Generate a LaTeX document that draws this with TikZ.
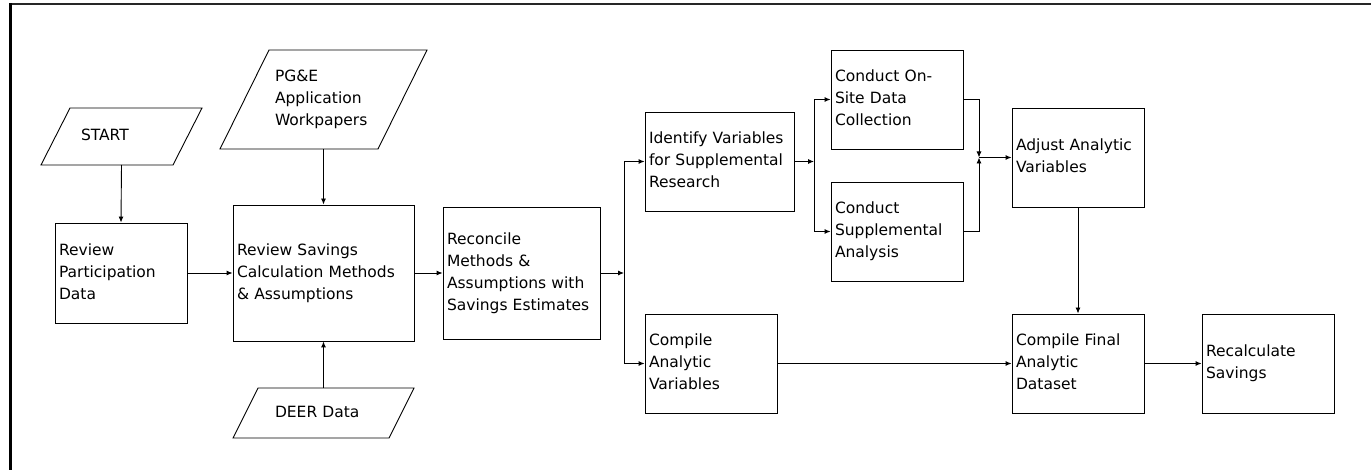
\documentclass[tikz,border=0pt]{standalone}
\usepackage{fontspec}
\setmainfont{DejaVu Sans}
\usetikzlibrary{arrows.meta,calc}
\newcommand{\lns}[1]{\begin{tabular}{@{}l@{}}#1\end{tabular}}
\begin{document}
\begin{tikzpicture}[x=1pt,y=-1pt,
  lbl/.style={font=\fontsize{15.5}{22}\selectfont},
  box/.style n args={3}{draw, line width=0.9pt, lbl, inner xsep=4pt, inner ysep=0pt,
     minimum width=#1pt, minimum height=#2pt, text width=#3pt, align=left},
  para/.style n args={4}{lbl, inner ysep=0pt, outer sep=0pt, minimum width=#1pt,
     minimum height=#2pt, inner xsep=#3pt, text width=#4pt, align=left},
  ln/.style={line width=0.9pt},
  arr/.style={line width=0.9pt, -{Latex[length=6pt,width=5pt]}}]
\useasboundingbox (0,0) rectangle (1371,470);
% frame
\draw[line width=2pt, black!85] (9,4.5) -- (1371,4.5);
\draw[line width=3pt] (10.5,3.5) -- (10.5,470);

% parallelograms
\node[para={161}{57}{40}{81}] (start) at (121.5,136.5) {\lns{START}};
\draw[ln] (start.south west) -- ([xshift=-29pt]start.south east) -- (start.north east) -- ([xshift=29pt]start.north west) -- cycle;
\node[para={207}{99}{55}{97}] (pge) at (323.5,99.5) {\lns{PG\&E\\Application\\Workpapers}};
\draw[ln] (pge.south west) -- ([xshift=-49pt]pge.south east) -- (pge.north east) -- ([xshift=49pt]pge.north west) -- cycle;
\node[para={181}{50}{42}{97}] (deer) at (323.5,413) {\lns{DEER Data}};
\draw[ln] (deer.south west) -- ([xshift=-25pt]deer.south east) -- (deer.north east) -- ([xshift=25pt]deer.north west) -- cycle;

% process boxes
\node[box={132}{100}{124}] (revpart) at (121,273) {\lns{Review\\Participation\\Data}};
\node[box={181}{136}{173}] (revsav) at (323.5,273) {\lns{Review Savings\\Calculation Methods\\\& Assumptions}};
\node[box={157}{132}{149}] (recon) at (521.5,273) {\lns{Reconcile\\Methods \&\\Assumptions with\\Savings Estimates}};
\node[box={149}{99}{141}] (ident) at (719.5,161.5) {\lns{Identify Variables\\for Supplemental\\Research}};
\node[box={132}{99}{124}] (compA) at (711,363.5) {\lns{Compile\\Analytic\\Variables}};
\node[box={132}{99}{124}] (onsite) at (897,99.5) {\lns{Conduct On-\\Site Data\\Collection}};
\node[box={132}{99}{124}] (supp) at (897,231.5) {\lns{Conduct\\Supplemental\\Analysis}};
\node[box={132}{99}{124}] (adjust) at (1078,157.5) {\lns{Adjust Analytic\\Variables}};
\node[box={132}{99}{124}] (compF) at (1078,363.5) {\lns{Compile Final\\Analytic\\Dataset}};
\node[box={132}{99}{124}] (recalc) at (1268,363.5) {\lns{Recalculate\\Savings}};

% branch / junction points
\coordinate (br1) at (624,273);
\coordinate (br2) at (814,161.5);
\coordinate (jn) at (979,157.5);

% connectors
\draw[arr] (start.south) -- (revpart.north);
\draw[arr] (pge.south) -- (revsav.north);
\draw[arr] (deer.north) -- (revsav.south);
\draw[arr] (revpart.east) -- (revsav.west);
\draw[arr] (revsav.east) -- (recon.west);
\draw[arr] (recon.east) -- (br1);
\draw[arr] (br1) |- (ident.west);
\draw[arr] (br1) |- (compA.west);
\draw[arr] (ident.east) -- (br2);
\draw[arr] (br2) |- (onsite.west);
\draw[arr] (br2) |- (supp.west);
\draw[arr] (onsite.east) -| (jn);
\draw[arr] (supp.east) -| (jn);
\draw[arr] (jn) -- (adjust.west);
\draw[arr] (adjust.south) -- (compF.north);
\draw[arr] (compA.east) -- (compF.west);
\draw[arr] (compF.east) -- (recalc.west);
\end{tikzpicture}
\end{document}
